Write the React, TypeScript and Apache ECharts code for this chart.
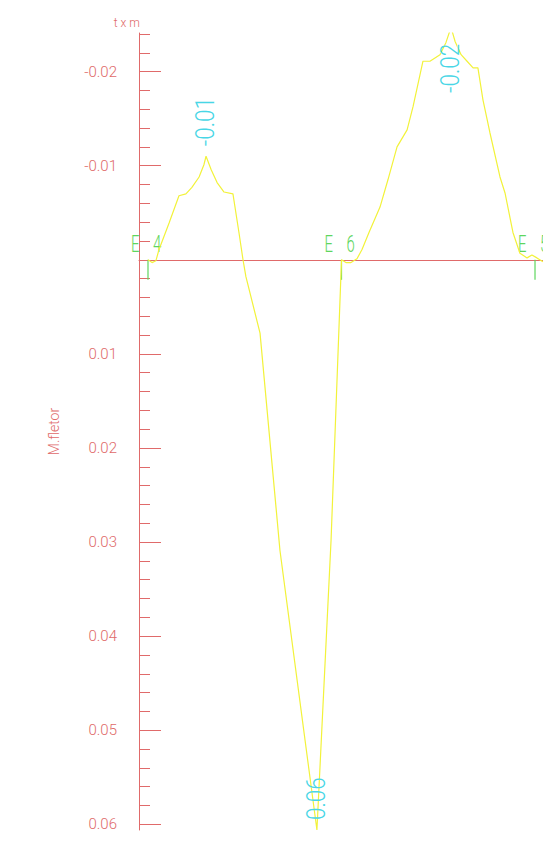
import React, { useEffect, useRef } from "react";
import * as echarts from "echarts";

// Bending-moment diagram (t x m) along spans E4 - E6 - E5
const positions = [
  0, 0.021, 0.041, 0.057, 0.109, 0.16, 0.196, 0.227, 0.264, 0.289, 0.3, 0.326,
  0.357, 0.393, 0.439, 0.47, 0.491, 0.506, 0.579, 0.682, 0.873, 0.946, 1.0,
  1.023, 1.049, 1.08, 1.106, 1.142, 1.199, 1.24, 1.287, 1.339, 1.37, 1.421,
  1.457, 1.509, 1.54, 1.566, 1.587, 1.618, 1.649, 1.68, 1.705, 1.731, 1.767,
  1.819, 1.845, 1.886, 1.922, 1.959, 1.984, 2.01, 2.041,
];
const moments = [
  0, 0.0003, 0.0001, -0.0011, -0.0039, -0.0068, -0.007, -0.0077, -0.0088,
  -0.0101, -0.011, -0.0096, -0.0082, -0.0072, -0.007, -0.0029, 0, 0.0018,
  0.0078, 0.0309, 0.0606, 0.0298, 0, 0.0003, 0.0003, -0.0001, -0.0011, -0.0029,
  -0.0056, -0.0085, -0.012, -0.0138, -0.0163, -0.0211, -0.0211, -0.0218,
  -0.0231, -0.0247, -0.0232, -0.0218, -0.0211, -0.0204, -0.0204, -0.017,
  -0.0135, -0.0088, -0.0071, -0.0029, -0.0007, -0.0002, -0.0005, -0.0002,
  0.0002,
];

// extreme values annotated on the diagram
const peakPositions = [0.3, 0.873, 1.566];
const peakValues = [-0.011, 0.0606, -0.0247];

// supports
const supportPositions = [0, 1, 2];
const supportNames = ["E 4", "E 6", "E 5"];

// axis ticks
const majorTicks = [-0.02, -0.01, 0.01, 0.02, 0.03, 0.04, 0.05, 0.06];
const minorTicks = [
  -0.024, -0.022, -0.018, -0.016, -0.014, -0.012, -0.008, -0.006, -0.004,
  -0.002, 0.002, 0.004, 0.006, 0.008, 0.012, 0.014, 0.016, 0.018, 0.022, 0.024,
  0.026, 0.028, 0.032, 0.034, 0.036, 0.038, 0.042, 0.044, 0.046, 0.048, 0.052,
  0.054, 0.056, 0.058,
];
const yMin = -0.0241;
const yMax = 0.0606;
const xMin = -0.0465;
const xMax = 2.0413;

const RED = "#e06a6a";
const GREEN = "#5ed65e";
const CYAN = "#48d6e6";
const YELLOW = "#f2f23a";
const FONT = "Roboto, 'Liberation Sans', Arial, sans-serif";

export default function App() {
  const ref = useRef<HTMLDivElement>(null);

  useEffect(() => {
    if (!ref.current) return;
    const chart = echarts.init(ref.current, undefined, { renderer: "svg" });

    const lineData = positions.map((p, i) => [p, moments[i]]);
    const peakData = peakPositions.map((p, i) => [p, peakValues[i]]);
    const supportData = supportPositions.map((p) => [p, 0]);

    const option: any = {
      animation: false,
      backgroundColor: "#ffffff",
      grid: { left: 139, top: 33, width: 404, height: 797 },
      xAxis: {
        type: "value",
        min: xMin,
        max: xMax,
        axisLine: { show: true, onZero: true, lineStyle: { color: RED, width: 1 } },
        axisTick: { show: false },
        axisLabel: { show: false },
        splitLine: { show: false },
      },
      yAxis: [
        {
          type: "value",
          position: "left",
          inverse: true,
          min: yMin,
          max: yMax,
          axisLine: { show: true, onZero: false, lineStyle: { color: RED, width: 1 } },
          axisTick: {
            show: true,
            inside: true,
            length: 22,
            customValues: majorTicks,
            lineStyle: { color: RED, width: 1 },
          },
          axisLabel: {
            show: true,
            customValues: majorTicks,
            formatter: (v: number) => v.toFixed(2),
            color: RED,
            fontSize: 15,
            fontFamily: FONT,
            fontWeight: 300,
            margin: 22,
          },
          splitLine: { show: false },
          name: "M.fletor",
          nameLocation: "middle",
          nameRotate: 90,
          nameGap: 78,
          nameTextStyle: { color: RED, fontSize: 14, fontFamily: FONT, fontWeight: 300 },
        },
        {
          type: "value",
          position: "left",
          offset: 0,
          inverse: true,
          min: yMin,
          max: yMax,
          axisLine: { show: false, onZero: false },
          axisTick: {
            show: true,
            inside: true,
            length: 11,
            customValues: minorTicks,
            lineStyle: { color: RED, width: 1 },
          },
          axisLabel: { show: false },
          splitLine: { show: false },
        },
      ],
      graphic: [
        {
          type: "text",
          x: 140,
          y: 29,
          style: {
            text: "t x m",
            fontSize: 12,
            fontFamily: FONT,
            fontWeight: 300,
            fill: RED,
            align: "right",
            verticalAlign: "bottom",
          },
        },
      ],
      series: [
        {
          type: "line",
          data: lineData,
          showSymbol: false,
          symbol: "none",
          lineStyle: { color: YELLOW, width: 1.2 },
          z: 5,
        },
        {
          type: "custom",
          data: supportData,
          z: 4,
          renderItem: (params: any, api: any) => {
            const p = api.coord([api.value(0), api.value(1)]);
            const name = supportNames[params.dataIndex];
            const parts = name.split(" ");
            return {
              type: "group",
              children: [
                {
                  type: "line",
                  shape: { x1: p[0], y1: p[1], x2: p[0], y2: p[1] + 20 },
                  style: { stroke: GREEN, lineWidth: 1.2 },
                },
                {
                  type: "text",
                  x: p[0] - 17,
                  y: p[1] - 16,
                  scaleX: 0.62,
                  style: {
                    text: parts[0],
                    fontSize: 24,
                    fontFamily: FONT,
                    fontWeight: 300,
                    fill: GREEN,
                    align: "left",
                    verticalAlign: "middle",
                  },
                },
                {
                  type: "text",
                  x: p[0] + 5,
                  y: p[1] - 16,
                  scaleX: 0.62,
                  style: {
                    text: parts[1],
                    fontSize: 24,
                    fontFamily: FONT,
                    fontWeight: 300,
                    fill: GREEN,
                    align: "left",
                    verticalAlign: "middle",
                  },
                },
              ],
            };
          },
        },
        {
          type: "custom",
          data: peakData,
          z: 6,
          renderItem: (params: any, api: any) => {
            const p = api.coord([api.value(0), api.value(1)]);
            const text = Number(api.value(1)).toFixed(2);
            const len = 11 * text.length;
            let startY = p[1] - 10;
            const minTop = params.coordSys.y + 5;
            if (startY - len < minTop) startY = minTop + len;
            return {
              type: "text",
              x: p[0],
              y: startY,
              rotation: Math.PI / 2,
              scaleX: 0.9,
              style: {
                text,
                fontSize: 25,
                fontFamily: FONT,
                fontWeight: 300,
                fill: CYAN,
                align: "left",
                verticalAlign: "middle",
              },
            };
          },
        },
      ],
    };

    chart.setOption(option);
    return () => chart.dispose();
  }, []);

  return (
    <div
      ref={ref}
      style={{ position: "fixed", left: 0, top: 0, width: 543, height: 854, background: "#fff" }}
    />
  );
}
